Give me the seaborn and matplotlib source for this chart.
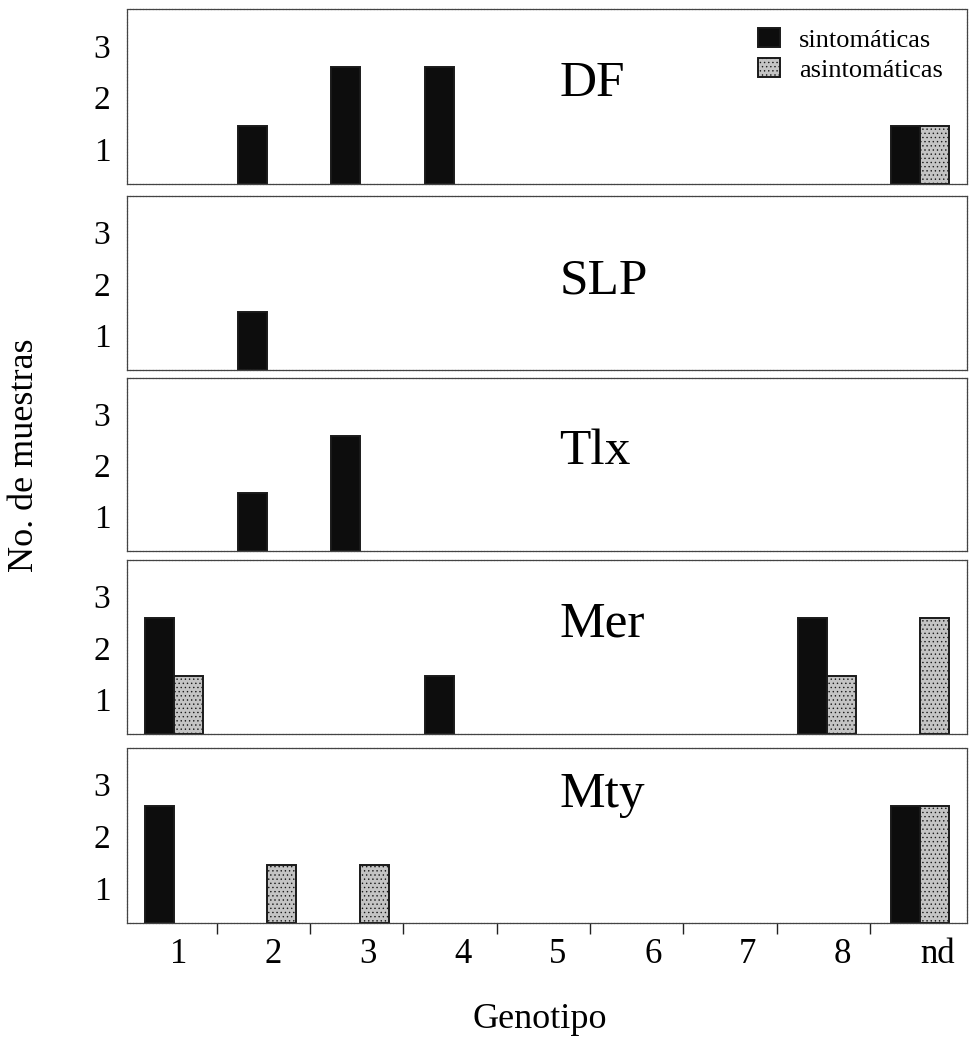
import numpy as np
import pandas as pd
import matplotlib
matplotlib.use("Agg")
import matplotlib.pyplot as plt
import matplotlib.colors as mcolors
import seaborn as sns

# ---------------- data ----------------
genotipos = ['1', '2', '3', '4', '5', '6', '7', '8', 'nd']
tipos = ['sintomáticas', 'asintomáticas']
regiones = ['DF', 'SLP', 'Tlx', 'Mer', 'Mty']

df_sint   = [0, 1, 2, 2, 0, 0, 0, 0, 1]
df_asint  = [0, 0, 0, 0, 0, 0, 0, 0, 1]
slp_sint  = [0, 1, 0, 0, 0, 0, 0, 0, 0]
slp_asint = [0, 0, 0, 0, 0, 0, 0, 0, 0]
tlx_sint  = [0, 1, 2, 0, 0, 0, 0, 0, 0]
tlx_asint = [0, 0, 0, 0, 0, 0, 0, 0, 0]
mer_sint  = [2, 0, 0, 1, 0, 0, 0, 2, 0]
mer_asint = [1, 0, 0, 0, 0, 0, 0, 1, 2]
mty_sint  = [2, 0, 0, 0, 0, 0, 0, 0, 2]
mty_asint = [0, 1, 1, 0, 0, 0, 0, 0, 2]

ytick_labels = ['1', '2', '3']
y_label = 'No. de muestras'
x_label = 'Genotipo'

series = {
    'DF': (df_sint, df_asint),
    'SLP': (slp_sint, slp_asint),
    'Tlx': (tlx_sint, tlx_asint),
    'Mer': (mer_sint, mer_asint),
    'Mty': (mty_sint, mty_asint),
}

# ---------------- style ----------------
sns.set_theme(style='white')
plt.rcParams['font.family'] = ['Liberation Serif', 'DejaVu Serif']
plt.rcParams['hatch.linewidth'] = 0.5
plt.rcParams['hatch.color'] = '#555555'
plt.rcParams['text.color'] = 'black'
plt.rcParams['xtick.color'] = 'black'
plt.rcParams['ytick.color'] = 'black'

GRAY = '#c4c4c4'
palette = {'sintomáticas': '#0d0d0d', 'asintomáticas': GRAY}

W, H = 978, 1041
fig = plt.figure(figsize=(W / 100, H / 100), dpi=100)

# panel pixel extents (top, bottom)
panel_px = [(9, 184), (196, 370), (378, 551), (560, 734), (748, 923)]
left_px, right_px = 127, 967
label_y = [0.50, 0.44, 0.50, 0.56, 0.66]
ytick_pos = [0.60, 1.48, 2.37]


def stipple(patch):
    fc = mcolors.to_hex(patch.get_facecolor())
    if fc.lower() == GRAY:
        patch.set_hatch('....')


axes = []
for k, reg in enumerate(regiones):
    t, b = panel_px[k]
    ax = fig.add_axes([left_px / W, 1 - b / H, (right_px - left_px) / W, (b - t) / H])
    axes.append(ax)
    s, a = series[reg]
    rows = []
    for g, v in zip(genotipos, s):
        if v > 0:
            rows.append((g, tipos[0], v))
    for g, v in zip(genotipos, a):
        if v > 0:
            rows.append((g, tipos[1], v))
    data = pd.DataFrame(rows, columns=['genotipo', 'tipo', 'n'])
    sns.barplot(data=data, x='genotipo', y='n', hue='tipo', order=genotipos,
                hue_order=tipos, palette=palette, width=0.62, dodge=True,
                errorbar=None, edgecolor='#1a1a1a', linewidth=1.4,
                legend=(k == 0), ax=ax, zorder=2)
    for p in ax.patches:
        stipple(p)
    ax.set_xlim(-0.5, 8.5)
    ax.set_ylim(0, 3)
    ax.set_yticks(ytick_pos)
    ax.set_yticklabels(ytick_labels)
    ax.tick_params(axis='y', length=0, pad=12, labelsize=24, labelcolor='black')
    ax.set_xlabel('')
    ax.set_ylabel('')
    for sp in ax.spines.values():
        sp.set_visible(True)
        sp.set_color('#444444')
        sp.set_linewidth(0.9)
        sp.set_linestyle((0, (2, 0.6)))
    ax.text(0.515, label_y[k], reg, transform=ax.transAxes, fontsize=37,
            ha='left', va='baseline', color='black')
    if k < len(regiones) - 1:
        ax.set_xticks([])
    else:
        centers = np.arange(len(genotipos))
        ax.set_xticks(centers + 0.05 + 0.017 * centers)
        ax.set_xticklabels(genotipos)
        ax.set_xticks(np.arange(len(genotipos) - 1) + 0.46, minor=True)
        ax.tick_params(axis='x', which='major', length=0, pad=11, labelsize=25,
                       labelcolor='black')
        ax.tick_params(axis='x', which='minor', length=8, width=1.0,
                       direction='out', color='#222', bottom=True)

# legend on the first panel
ax0 = axes[0]
handles, labels = ax0.get_legend_handles_labels()
if ax0.get_legend() is not None:
    ax0.get_legend().remove()
leg = ax0.legend(handles, labels, loc='upper left', bbox_to_anchor=(0.751, 0.89),
                 frameon=False, fontsize=19, handlelength=0.85, handleheight=0.7,
                 handletextpad=0.7, labelspacing=0.25, borderpad=0, borderaxespad=0)
for h in leg.get_patches():
    stipple(h)

fig.text(25 / W, 1 - 455 / H, y_label, rotation=90, fontsize=26,
         ha='center', va='center', color='black')
fig.text(540 / W, 1 - 1028 / H, x_label, fontsize=26, ha='center',
         va='baseline', color='black')

fig.savefig('out.png', dpi=100, facecolor='white')
